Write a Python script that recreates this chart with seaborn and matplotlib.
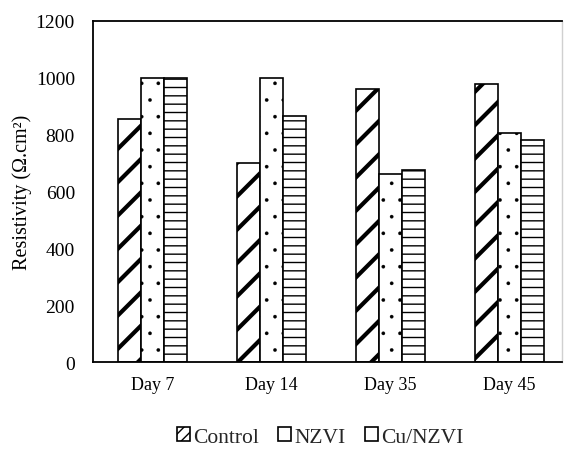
import matplotlib
matplotlib.use("Agg")
import matplotlib.pyplot as plt
from matplotlib.patches import Patch
import seaborn as sns
import pandas as pd

categories = ["Day 7", "Day 14", "Day 35", "Day 45"]
series = ["Control", "NZVI", "Cu/NZVI"]
control = [855, 700, 960, 980]
nzvi = [1000, 1000, 660, 805]
cu_nzvi = [1000, 865, 675, 780]
hatches = ["/", ".", "--"]
legend_hatches = ["///", "", "-"]

df = pd.DataFrame({
    "Day": categories * 3,
    "Treatment": [s for s in series for _ in categories],
    "Resistivity": control + nzvi + cu_nzvi,
})

sns.set_theme(style="white")
plt.rcParams["font.family"] = ["Liberation Serif", "DejaVu Serif"]
plt.rcParams["hatch.linewidth"] = 1.0

fig = plt.figure(figsize=(5.68, 4.64), dpi=100)
ax = fig.add_axes([93 / 568, 1 - 363 / 464, (562 - 93) / 568, (363 - 22) / 464])

sns.barplot(data=df, x="Day", y="Resistivity", hue="Treatment",
            hue_order=series, order=categories,
            palette={s: "white" for s in series}, saturation=1,
            width=0.588, gap=0, edgecolor="black", linewidth=1.2,
            legend=False, ax=ax, errorbar=None)

hatch_lws = [3.0, 0.2, 1.0]
legend_lws = [2.0, 0.2, 1.0]
for cont, h, lw in zip(ax.containers, hatches, hatch_lws):
    for p in cont:
        p.set_hatch(h)
        try:
            p.set_hatch_linewidth(lw)
        except AttributeError:
            pass

ax.set_xlim(-0.5, -0.5 + (562 - 93) / 119)
ax.set_ylim(0, 1200)
ax.set_yticks(range(0, 1201, 200))
ax.tick_params(axis="y", length=0, pad=13, labelsize=14, colors="black")
ax.tick_params(axis="x", length=0, pad=10, labelsize=13, colors="black")
ax.set_xlabel("")
ax.set_ylabel("Resistivity (Ω.cm²)", fontsize=14.5, color="black", labelpad=3)

for side in ["left", "bottom", "top"]:
    ax.spines[side].set_color("black")
    ax.spines[side].set_linewidth(1.3)
ax.spines["right"].set_color("#d0d0d0")
ax.spines["right"].set_linewidth(1.0)

handles = []
for h, lw in zip(legend_hatches, legend_lws):
    ph = Patch(facecolor="white", edgecolor="black", linewidth=1.2, hatch=h)
    try:
        ph.set_hatch_linewidth(lw)
    except AttributeError:
        pass
    handles.append(ph)
fig.legend(handles, series, loc="center", bbox_to_anchor=(320 / 568, 1 - 438 / 464),
           ncol=3, frameon=False, fontsize=15.5, handlelength=0.6, handleheight=0.6,
           handletextpad=0.15, columnspacing=0.9)

fig.savefig("out.png", dpi=100)
